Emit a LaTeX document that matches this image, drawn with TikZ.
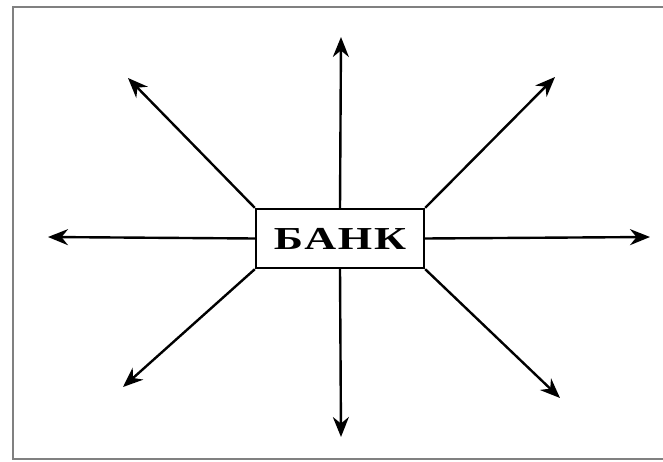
\documentclass[tikz,border=0pt]{standalone}
\usepackage{fontspec}
\setmainfont{Liberation Serif}
\usetikzlibrary{arrows.meta}
\begin{document}
\begin{tikzpicture}[x=1pt,y=-1pt]
\useasboundingbox (0,0) rectangle (663,462);
\draw[line width=2pt, black!50] (670,7) -- (13,7) -- (13,459) -- (670,459);
\node[draw, line width=2.4pt, rectangle, minimum width=168pt, minimum height=59pt, inner sep=0pt] (bank) at (340,238.5) {\scalebox{1.38}[1]{\fontsize{32}{34}\selectfont\bfseries\addfontfeature{LetterSpace=4}БАНК}};
\coordinate (n) at (341,37);
\coordinate (s) at (341,437);
\coordinate (w) at (48,237);
\coordinate (e) at (650,237);
\coordinate (nw) at (128,78);
\coordinate (ne) at (555,77);
\coordinate (sw) at (123,387);
\coordinate (se) at (560,398);
\draw[-{Stealth[length=20pt,width=16pt]}, line width=2.4pt] (bank.north) -- (n);
\draw[-{Stealth[length=20pt,width=16pt]}, line width=2.4pt] (bank.south) -- (s);
\draw[-{Stealth[length=20pt,width=16pt]}, line width=2.4pt] (bank.west) -- (w);
\draw[-{Stealth[length=20pt,width=16pt]}, line width=2.4pt] (bank.east) -- (e);
\draw[-{Stealth[length=20pt,width=16pt]}, line width=2.4pt] (bank.north west) -- (nw);
\draw[-{Stealth[length=20pt,width=16pt]}, line width=2.4pt] (bank.north east) -- (ne);
\draw[-{Stealth[length=20pt,width=16pt]}, line width=2.4pt] (bank.south west) -- (sw);
\draw[-{Stealth[length=20pt,width=16pt]}, line width=2.4pt] (bank.south east) -- (se);
\end{tikzpicture}
\end{document}
